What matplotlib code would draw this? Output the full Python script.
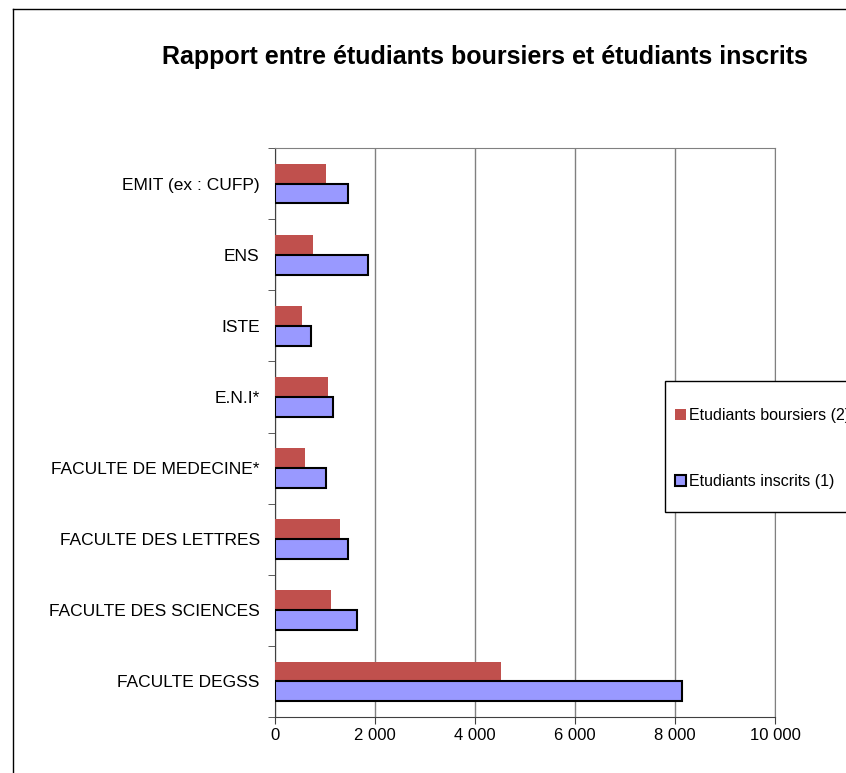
import matplotlib
matplotlib.use("Agg")
import matplotlib.pyplot as plt
import numpy as np
from matplotlib.lines import Line2D
from matplotlib.patches import Rectangle

plt.rcParams['font.family'] = ['Liberation Sans', 'DejaVu Sans']

categories = ["FACULTE DEGSS", "FACULTE DES SCIENCES", "FACULTE DES LETTRES",
              "FACULTE DE MEDECINE*", "E.N.I*", "ISTE", "ENS", "EMIT (ex : CUFP)"]
boursiers = [4510, 1110, 1300, 590, 1060, 540, 760, 1020]
inscrits = [8130, 1630, 1450, 1010, 1150, 720, 1850, 1460]
xticks = [0, 2000, 4000, 6000, 8000, 10000]
xticklabels = ["0", "2 000", "4 000", "6 000", "8 000", "10 000"]

W, H = 846, 773
fig = plt.figure(figsize=(W/100, H/100), dpi=100)
# outer chart frame (left and top edges visible, rest clipped)
fig.lines.append(Line2D([12.5/W, 12.5/W], [0, 1-8.5/H], transform=fig.transFigure,
                        color='black', linewidth=1.0))
fig.lines.append(Line2D([12.5/W, 1], [1-8.5/H, 1-8.5/H], transform=fig.transFigure,
                        color='black', linewidth=1.0))

ax = fig.add_axes([275/W, 1-717/H, 500/W, 569/H])

y = np.arange(len(categories))
h = 0.28
ax.barh(y + h/2, boursiers, height=h, color='#C0504D', edgecolor='none',
        label='Etudiants boursiers (2)', zorder=3)
ax.barh(y - h/2, inscrits, height=h, color='#9999FF', edgecolor='black',
        linewidth=1.5, label='Etudiants inscrits (1)', zorder=3)

ax.set_xlim(0, 10000)
ax.set_ylim(-0.5, len(categories) - 0.5)
ax.set_xticks(xticks)
ax.set_xticklabels(xticklabels, fontsize=12)
ax.set_yticks(y)
ax.set_yticklabels(categories, fontsize=12.5)
ax.tick_params(axis='y', length=0, pad=11)
ax.set_yticks(np.arange(-0.5, len(categories)), minor=True)
ax.tick_params(axis='y', which='minor', length=5, direction='out', color='#404040')
ax.tick_params(axis='x', length=5, direction='out', color='#404040', pad=3)
ax.grid(axis='x', color='#808080', linewidth=1.0, zorder=0)
for s in ['top', 'right']:
    ax.spines[s].set_color('#808080')
for s in ['left', 'bottom']:
    ax.spines[s].set_color('#404040')

# legend frame drawn separately (clipped at right figure edge like the reference)
ax.add_patch(Rectangle((664.5/W, 1-512/H), 200/W, 131/H, transform=fig.transFigure,
                       clip_on=False, fill=True, facecolor='white', edgecolor='black',
                       linewidth=1.0, zorder=5))
leg = ax.legend(loc='upper left', bbox_to_anchor=(675/W, 1-408/H),
                bbox_transform=fig.transFigure, frameon=False,
                fontsize=11.5, handlelength=0.7, handleheight=0.7, handletextpad=0.15,
                labelspacing=3.2, borderpad=0, borderaxespad=0)
leg.set_zorder(6)

fig.text(485/W, 1-57/H, "Rapport entre étudiants boursiers et étudiants inscrits",
         ha='center', va='center', fontsize=18, fontweight='bold')

fig.savefig("out.png", dpi=100)
